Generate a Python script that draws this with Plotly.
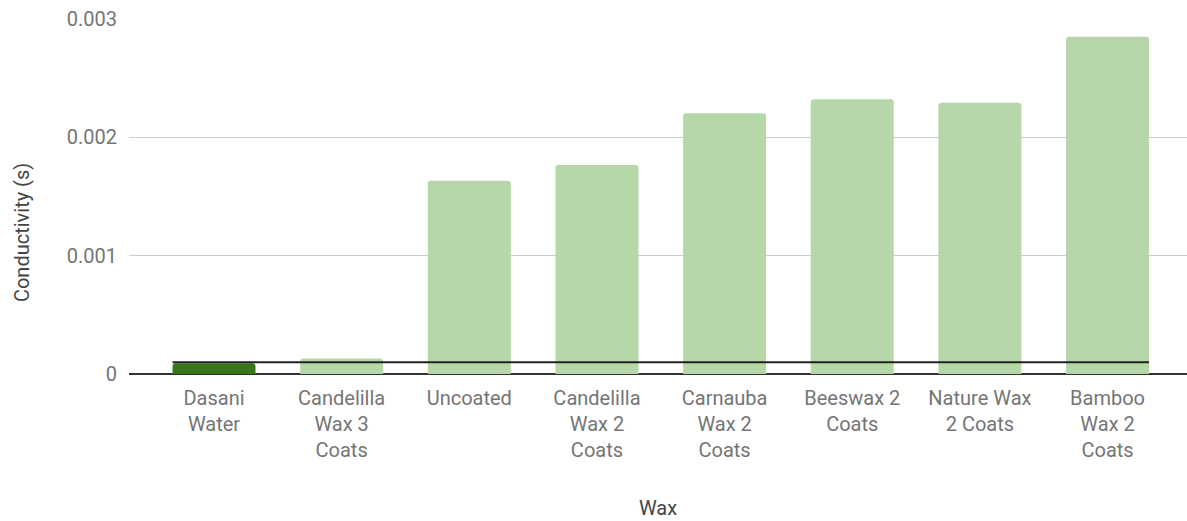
import plotly.graph_objects as go

# Conductivity of water stored in wax-coated containers
categories = [
    "Dasani<br>Water",
    "Candelilla<br>Wax 3<br>Coats",
    "Uncoated",
    "Candelilla<br>Wax 2<br>Coats",
    "Carnauba<br>Wax 2<br>Coats",
    "Beeswax 2<br>Coats",
    "Nature Wax<br>2 Coats",
    "Bamboo<br>Wax 2<br>Coats",
]
conductivity = [0.00009, 0.00013, 0.001634, 0.001766, 0.002203, 0.002321, 0.002292, 0.00285]
control_level = 0.0001  # Dasani water reference level
y_ticks = [0, 0.001, 0.002, 0.003]
y_tick_labels = ["0", "0.001", "0.002", "0.003"]

positions = list(range(len(categories)))
bar_width = 0.65
bar_colors = ["#38761d"] + ["#b6d7a8"] * (len(categories) - 1)

fig = go.Figure()
fig.add_trace(go.Bar(
    x=positions,
    y=conductivity,
    width=bar_width,
    marker=dict(color=bar_colors, line=dict(width=0), cornerradius=3),
    hoverinfo="y",
    showlegend=False,
))
# Horizontal reference line spanning the bars
fig.add_trace(go.Scatter(
    x=[positions[0] - bar_width / 2, positions[-1] + bar_width / 2],
    y=[control_level, control_level],
    mode="lines",
    line=dict(color="#222222", width=2),
    hoverinfo="skip",
    showlegend=False,
))

W, H = 1187, 521
left, right, top, bottom = 129, 0, 19, 147
step_px = 127.65
x_left = -(214 - left) / step_px
x_right = x_left + (W - left - right) / step_px

fig.update_layout(
    width=W,
    height=H,
    margin=dict(l=left, r=right, t=top, b=bottom, pad=0),
    plot_bgcolor="white",
    paper_bgcolor="white",
    font=dict(family="Roboto", size=20, color="#757575"),
    xaxis=dict(
        range=[x_left, x_right],
        tickmode="array",
        tickvals=positions,
        ticktext=categories,
        showgrid=False,
        zeroline=False,
        showline=False,
        ticks="",
        ticklabelstandoff=10,
        tickfont=dict(size=20, color="#757575"),
        title=dict(text="Wax", font=dict(size=20, color="#444444"), standoff=39),
    ),
    yaxis=dict(
        range=[0, 0.003],
        tickmode="array",
        tickvals=y_ticks,
        ticktext=y_tick_labels,
        showgrid=True,
        gridcolor="#cccccc",
        gridwidth=1,
        zeroline=True,
        zerolinecolor="#333333",
        zerolinewidth=1.5,
        showline=False,
        ticks="",
        ticklabelstandoff=11,
        tickfont=dict(size=20, color="#757575"),
    ),
    annotations=[
        dict(
            text="Conductivity (s)",
            xref="paper", yref="paper",
            x=-(left - 22) / (W - left - right), y=0.397,
            xanchor="center", yanchor="middle",
            textangle=-90, showarrow=False,
            font=dict(family="Roboto", size=20, color="#444444"),
        )
    ],
)

fig.write_html("out.html")
